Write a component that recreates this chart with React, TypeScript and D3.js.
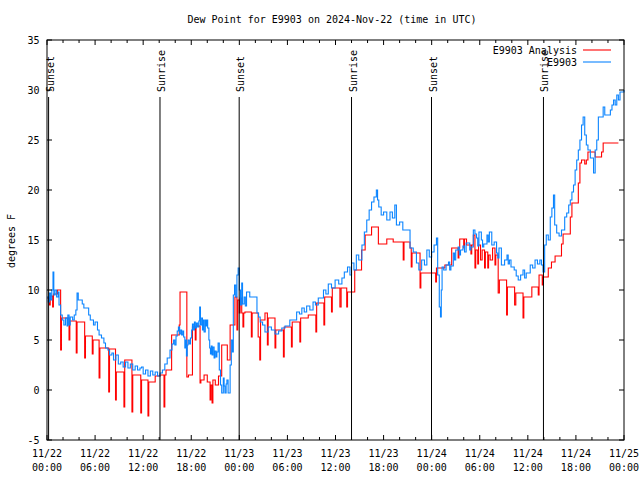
import React from "react";
import * as d3 from "d3";

const title = "Dew Point for E9903 on 2024-Nov-22 (time in UTC)";
const yLabel = "degrees F";
const yTicks = [-5, 0, 5, 10, 15, 20, 25, 30, 35];
const xMajorHours = [0, 6, 12, 18, 24, 30, 36, 42, 48, 54, 60, 66, 72];
const xTickDates = ["11/22", "11/22", "11/22", "11/22", "11/23", "11/23", "11/23", "11/23", "11/24", "11/24", "11/24", "11/24", "11/25"];
const xTickTimes = ["00:00", "06:00", "12:00", "18:00", "00:00", "06:00", "12:00", "18:00", "00:00", "06:00", "12:00", "18:00", "00:00"];
const sunHours = [0.2, 14.1, 23.98, 38.0, 47.98, 61.95];
const sunLabels = ["Sunset", "Sunrise", "Sunset", "Sunrise", "Sunset", "Sunrise"];
const seriesNames = ["E9903 Analysis", "E9903"];

// [hours since 11/22 00:00 UTC, dew point F]
const analysis: [number, number][] = [
  [0.0, 9.2], [0.3, 8.5], [0.4, 9.4], [0.7, 8.3], [0.8, 9.6], [1.3, 10.0],
  [1.7, 4.0], [1.8, 7.2], [2.75, 5.0], [2.85, 6.9], [3.65, 3.7], [3.75, 6.8],
  [4.7, 3.2], [4.8, 5.4], [5.65, 3.6], [5.75, 5.0], [6.5, 1.2], [6.6, 4.2],
  [7.7, -0.2], [7.8, 4.1], [8.55, -1.0], [8.65, 1.8], [9.6, -1.7], [9.7, 3.0],
  [10.6, -2.2], [10.7, 1.5], [11.7, -2.3], [11.8, 1.0], [12.6, -2.6], [12.7, 0.8],
  [13.5, 1.4], [14.1, 1.5], [14.6, -1.7], [14.7, 1.5], [14.85, 2.0], [15.55, 5.5],
  [16.5, 6.5], [16.6, 9.8], [17.45, 1.3], [17.65, 1.5], [18.15, 6.3], [18.5, 5.0],
  [18.6, 6.4], [19.1, 0.7], [19.2, 1.0], [19.6, 1.5], [20.0, 0.8], [20.35, -1.0],
  [20.45, 0.5], [20.6, -1.3], [20.7, 1.0], [21.0, 0.5], [21.4, 1.4], [21.8, 4.5],
  [22.5, 3.0], [22.85, 6.5], [23.45, 9.3], [23.7, 6.0], [23.8, 9.0], [24.0, 7.7],
  [24.1, 9.2], [24.3, 7.7], [24.45, 6.3], [24.55, 7.7], [24.7, 7.8], [25.5, 5.3],
  [25.6, 7.7], [26.35, 5.3], [26.55, 3.0], [26.65, 7.0], [27.2, 7.7], [27.5, 4.5],
  [27.6, 7.2], [28.45, 4.2], [28.55, 6.0], [29.5, 3.3], [29.6, 6.3], [30.5, 4.3],
  [30.6, 6.8], [31.55, 4.8], [31.65, 7.2], [32.6, 7.5], [33.55, 5.8], [33.65, 8.7],
  [34.55, 6.5], [34.65, 9.3], [35.5, 7.8], [35.6, 10.2], [36.55, 8.3], [36.7, 10.2],
  [37.4, 8.3], [37.5, 9.8], [38.4, 12.0], [39.25, 14.0], [39.7, 15.5], [40.5, 16.3],
  [41.35, 14.6], [42.4, 15.1], [43.2, 14.8], [44.45, 13.0], [44.55, 14.8], [45.3, 14.2],
  [45.45, 12.3], [45.55, 13.7], [46.55, 10.2], [46.65, 11.7], [48.5, 10.8], [48.6, 12.2],
  [49.0, 12.2], [49.65, 12.5], [50.5, 14.2], [51.3, 13.2], [51.4, 14.2], [51.5, 15.1],
  [52.0, 14.2], [52.1, 15.1], [52.35, 14.5], [52.9, 13.6], [53.0, 14.5], [53.2, 15.5],
  [53.4, 12.2], [53.5, 14.0], [53.75, 12.6], [53.85, 14.5], [54.1, 13.0], [54.3, 14.0],
  [54.6, 12.2], [54.7, 13.8], [55.0, 12.2], [55.1, 13.5], [55.3, 13.0], [55.6, 14.2],
  [55.9, 12.5], [56.0, 13.5], [56.3, 9.7], [56.45, 11.0], [57.35, 7.5], [57.45, 10.3],
  [58.35, 8.5], [58.5, 9.7], [59.4, 7.2], [59.5, 9.3], [60.5, 10.3], [61.3, 9.5],
  [61.4, 11.5], [61.8, 10.5], [61.9, 11.3], [62.55, 12.2], [62.95, 12.8], [63.4, 13.4],
  [64.2, 14.6], [64.4, 15.6], [65.3, 17.3], [65.5, 18.7], [66.3, 20.7], [66.5, 22.7],
  [66.7, 23.0], [67.1, 22.6], [67.3, 23.0], [67.5, 23.8], [68.4, 23.3], [69.2, 23.8],
  [69.4, 24.7], [71.3, 24.7],
];

const observed: [number, number][] = [
  [0.0, 9.3], [0.15, 8.8], [0.3, 9.7], [0.45, 9.0], [0.6, 10.0], [0.75, 11.8],
  [0.85, 9.5], [1.0, 10.0], [1.2, 9.3], [1.4, 9.8], [1.5, 8.5], [1.7, 7.5],
  [1.9, 7.0], [2.1, 6.5], [2.3, 7.2], [2.5, 6.4], [2.6, 7.5], [2.75, 6.5],
  [2.9, 7.3], [3.2, 7.0], [3.4, 7.5], [3.6, 8.0], [3.75, 9.7], [3.9, 9.0],
  [4.4, 8.6], [4.6, 8.2], [5.2, 7.5], [5.4, 7.0], [5.8, 6.5], [6.0, 6.8],
  [6.3, 6.0], [6.5, 5.5], [6.8, 5.2], [7.1, 4.7], [7.3, 4.2], [7.6, 4.0],
  [7.8, 3.5], [8.1, 3.7], [8.3, 3.0], [8.6, 3.5], [8.9, 2.6], [9.2, 2.8],
  [9.5, 2.3], [9.8, 2.8], [10.1, 2.2], [10.4, 2.6], [10.7, 2.0], [11.0, 2.4],
  [11.3, 2.0], [11.6, 2.2], [11.8, 2.3], [12.0, 1.6], [12.3, 2.0], [12.6, 1.4],
  [12.9, 1.9], [13.2, 1.5], [13.5, 1.8], [13.8, 1.4], [14.1, 1.7], [14.4, 2.0],
  [14.7, 2.6], [15.0, 3.2], [15.35, 4.0], [15.6, 4.6], [15.8, 5.0], [15.95, 4.5],
  [16.1, 5.4], [16.25, 5.9], [16.4, 6.3], [16.55, 5.6], [16.7, 6.0], [16.8, 5.5],
  [16.95, 5.9], [17.05, 5.3], [17.2, 4.2], [17.3, 5.0], [17.4, 3.4], [17.5, 4.5],
  [17.6, 5.0], [17.75, 4.6], [17.9, 5.2], [18.05, 6.0], [18.15, 6.6], [18.3, 6.0],
  [18.4, 6.8], [18.5, 6.2], [18.65, 6.7], [18.8, 6.3], [18.95, 6.9], [19.05, 8.3],
  [19.15, 6.5], [19.3, 7.2], [19.4, 6.0], [19.5, 7.0], [19.6, 5.8], [19.75, 7.0],
  [19.85, 6.4], [19.95, 7.0], [20.05, 6.2], [20.2, 5.0], [20.3, 4.2], [20.4, 3.6],
  [20.5, 4.4], [20.6, 3.5], [20.7, 4.3], [20.85, 3.2], [20.95, 3.9], [21.1, 3.3],
  [21.2, 3.8], [21.35, 4.7], [21.5, 2.0], [21.65, 0.5], [21.8, -0.3], [22.0, 1.2],
  [22.1, 0.4], [22.2, -0.3], [22.35, 0.6], [22.45, 1.0], [22.6, -0.3], [22.85, 2.5],
  [23.0, 5.0], [23.15, 3.8], [23.25, 9.5], [23.4, 10.5], [23.55, 9.3], [23.7, 11.5],
  [23.85, 12.2], [24.0, 10.0], [24.15, 8.5], [24.3, 10.7], [24.4, 8.6], [24.6, 9.3],
  [24.75, 8.4], [24.9, 9.8], [25.3, 9.3], [26.2, 7.7], [26.4, 7.3], [26.6, 6.8],
  [26.9, 6.5], [27.2, 5.8], [27.6, 6.3], [28.0, 6.0], [28.45, 5.6], [28.9, 5.9],
  [29.3, 6.2], [29.7, 6.4], [30.3, 7.0], [31.15, 7.8], [31.5, 7.6], [31.8, 8.2],
  [32.1, 7.8], [32.4, 8.4], [32.8, 8.0], [33.2, 8.8], [33.5, 8.5], [33.85, 9.2],
  [34.5, 10.0], [34.8, 9.6], [35.1, 10.6], [35.5, 10.2], [35.95, 11.0], [36.4, 10.6],
  [36.8, 11.2], [37.1, 11.8], [37.5, 12.3], [37.8, 11.5], [38.0, 12.7], [38.3, 12.0],
  [38.6, 13.5], [38.9, 13.0], [39.3, 14.5], [39.6, 15.8], [39.9, 17.0], [40.2, 18.0],
  [40.5, 18.8], [40.8, 19.3], [41.1, 20.0], [41.25, 19.0], [41.4, 18.3], [41.7, 17.5],
  [42.0, 17.8], [42.4, 17.0], [42.8, 17.8], [43.1, 17.2], [43.4, 18.5], [43.6, 16.5],
  [44.0, 16.8], [44.4, 16.0], [45.3, 14.2], [45.7, 13.8], [46.1, 12.7], [46.4, 12.0],
  [46.75, 13.0], [47.1, 12.5], [47.4, 14.0], [47.7, 13.3], [48.0, 13.8], [48.3, 14.5],
  [48.6, 15.2], [48.75, 11.5], [48.95, 8.3], [49.1, 7.3], [49.2, 10.0], [49.3, 12.3],
  [49.5, 12.0], [49.8, 12.5], [50.1, 12.8], [50.25, 12.0], [50.4, 12.4], [50.7, 13.7],
  [50.85, 13.0], [51.0, 14.0], [51.3, 14.3], [51.45, 13.5], [51.6, 14.0], [51.9, 14.4],
  [52.1, 13.8], [52.3, 14.7], [52.6, 14.7], [52.75, 14.0], [52.9, 14.3], [53.2, 16.0],
  [53.4, 15.6], [53.6, 15.2], [53.75, 14.4], [53.9, 15.8], [54.2, 15.0], [54.35, 14.3],
  [54.5, 14.6], [54.9, 15.5], [55.05, 14.8], [55.2, 15.8], [55.5, 14.5], [55.8, 14.8],
  [56.1, 13.7], [56.25, 13.2], [56.4, 14.2], [56.7, 12.5], [57.1, 13.0], [57.4, 13.5],
  [57.55, 12.6], [57.7, 13.0], [57.9, 12.3], [58.3, 12.0], [58.55, 11.4], [58.8, 11.0],
  [59.1, 11.5], [59.4, 12.0], [59.6, 11.2], [59.8, 11.7], [60.3, 12.5], [60.6, 12.2],
  [60.9, 13.0], [61.2, 12.6], [61.5, 13.0], [61.7, 12.5], [61.9, 11.8], [62.1, 14.5],
  [62.3, 15.5], [62.55, 15.0], [62.8, 17.3], [63.0, 18.2], [63.2, 19.5], [63.35, 16.5],
  [63.6, 15.7], [63.9, 15.4], [64.2, 16.0], [64.6, 17.3], [64.85, 17.7], [65.1, 18.5],
  [65.3, 19.0], [65.5, 19.8], [65.7, 20.5], [65.9, 22.0], [66.1, 23.0], [66.3, 24.0],
  [66.5, 25.0], [66.7, 26.5], [66.9, 27.3], [67.1, 25.5], [67.3, 24.5], [67.5, 24.0],
  [67.8, 23.2], [68.2, 21.7], [68.4, 24.0], [68.6, 25.0], [68.8, 27.3], [69.4, 28.3],
  [69.6, 27.5], [70.3, 28.0], [70.5, 28.5], [70.7, 29.0], [70.9, 28.5], [71.1, 29.5],
  [71.3, 29.0], [71.5, 29.8], [72.0, 30.0],
];

const RED = "#ff0000";
const BLUE = "#0a84ff";
const FONT = "DejaVu Sans Mono, monospace";

export default function App() {
  const left = 47, right = 624, top = 40, bottom = 440;
  const x = d3.scaleLinear().domain([0, 72]).range([left, right]);
  const y = d3.scaleLinear().domain([-5, 35]).range([bottom, top]);
  const line = d3
    .line<[number, number]>()
    .x((d) => x(d[0]))
    .y((d) => y(d[1]))
    .curve(d3.curveStepAfter);
  const minorHours = d3.range(0, 73, 2);

  return (
    <svg
      width={640}
      height={480}
      style={{ position: "fixed", left: 0, top: 0, background: "#fff" }}
      fontFamily={FONT}
      fontSize={10}
    >
      <rect x={0} y={0} width={640} height={480} fill="#fff" />
      <text x={332} y={23} textAnchor="middle">{title}</text>

      {/* series */}
      <path d={line(analysis) || ""} fill="none" stroke={RED} strokeWidth={1.1} />
      <path d={line(observed) || ""} fill="none" stroke={BLUE} strokeWidth={1.1} />

      {/* sun events */}
      {sunHours.map((h, i) => (
        <g key={"sun" + i}>
          <line x1={x(h)} x2={x(h)} y1={97} y2={bottom} stroke="#000" strokeWidth={1} />
          <text transform={`translate(${x(h) + 5},92) rotate(-90)`} textAnchor="start">
            {sunLabels[i]}
          </text>
        </g>
      ))}

      {/* axes frame */}
      <rect x={left} y={top} width={right - left} height={bottom - top} fill="none" stroke="#000" strokeWidth={1} />
      {yTicks.map((v) => (
        <g key={"y" + v}>
          <line x1={left} x2={left + 5} y1={y(v)} y2={y(v)} stroke="#000" />
          <line x1={right - 5} x2={right} y1={y(v)} y2={y(v)} stroke="#000" />
          <text x={39.5} y={y(v) + 4} textAnchor="end">{v}</text>
        </g>
      ))}
      {minorHours.map((h) => {
        const len = h % 6 === 0 ? 5 : 3;
        return (
          <g key={"xm" + h}>
            <line x1={x(h)} x2={x(h)} y1={bottom} y2={bottom - len} stroke="#000" />
            <line x1={x(h)} x2={x(h)} y1={top} y2={top + len} stroke="#000" />
          </g>
        );
      })}
      {xMajorHours.map((h, i) => (
        <g key={"xl" + h}>
          <text x={x(h)} y={457} textAnchor="middle">{xTickDates[i]}</text>
          <text x={x(h)} y={471} textAnchor="middle">{xTickTimes[i]}</text>
        </g>
      ))}
      <text transform="translate(15,241) rotate(-90)" textAnchor="middle">{yLabel}</text>

      {/* legend */}
      <text x={577} y={54} textAnchor="end">{seriesNames[0]}</text>
      <line x1={583} x2={611} y1={50} y2={50} stroke={RED} strokeWidth={1.1} />
      <text x={577} y={66} textAnchor="end">{seriesNames[1]}</text>
      <line x1={583} x2={611} y1={62} y2={62} stroke={BLUE} strokeWidth={1.1} />
    </svg>
  );
}
